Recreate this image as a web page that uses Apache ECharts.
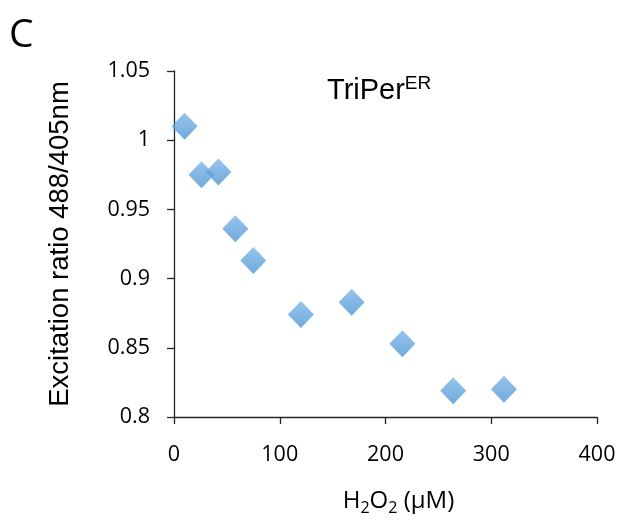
<!DOCTYPE html>
<html>
<head>
<meta charset="utf-8">
<script src="https://cdn.jsdelivr.net/npm/echarts@6/dist/echarts.min.js"></script>
<style>
html,body{margin:0;padding:0;background:#fff;}
#chart{width:634px;height:521px;}
</style>
</head>
<body>
<div id="chart"></div>
<script>
// Data
var h2o2 = [10, 26, 42, 58, 75, 120, 168, 216, 264, 312];
var ratio = [1.010, 0.975, 0.977, 0.936, 0.913, 0.874, 0.883, 0.853, 0.819, 0.820];
var xTicks = [0, 100, 200, 300, 400];
var yTicks = [0.8, 0.85, 0.9, 0.95, 1, 1.05];

var points = h2o2.map(function (x, i) { return [x, ratio[i]]; });

var tickFont = '"Open Sans", "Liberation Sans", sans-serif';
var arial = '"Liberation Sans", Arial, sans-serif';
var chart = echarts.init(document.getElementById('chart'), null, {renderer: 'canvas'});
chart.setOption({
  backgroundColor: '#ffffff',
  animation: false,
  grid: {left: 174, right: 37, top: 71, bottom: 102, containLabel: false},
  xAxis: {
    type: 'value',
    min: xTicks[0], max: xTicks[xTicks.length - 1], interval: 100,
    splitLine: {show: false},
    axisLine: {show: true, onZero: false, lineStyle: {color: '#262626', width: 1.3}},
    axisTick: {show: true, inside: false, length: 7, lineStyle: {color: '#262626', width: 1.3}},
    axisLabel: {color: '#000', fontSize: 21.5, fontFamily: tickFont, margin: 27},
    name: '{n|H}{s|2}{n|O}{s|2}{n| (\u03bcM)}',
    nameLocation: 'middle',
    nameGap: 70,
    nameTextStyle: {
      padding: [0, 0, 0, 26],
      rich: {
        n: {fontSize: 24, fontFamily: tickFont, color: '#000'},
        s: {fontSize: 16, fontFamily: tickFont, color: '#000', padding: [13, 0, 0, 0]}
      }
    }
  },
  yAxis: {
    type: 'value',
    min: 0.8, max: 1.05, interval: 0.05,
    splitLine: {show: false},
    axisLine: {show: true, onZero: false, lineStyle: {color: '#262626', width: 1.3}},
    axisTick: {show: true, inside: false, length: 7, lineStyle: {color: '#262626', width: 1.3}},
    axisLabel: {
      color: '#000', fontSize: 21.5, fontFamily: tickFont, margin: 24,
      formatter: function (v) { return String(Math.round(v * 100) / 100); }
    },
    name: 'Excitation ratio 488/405nm',
    nameLocation: 'middle',
    nameRotate: 90,
    nameGap: 100,
    nameTextStyle: {fontSize: 27.5, fontFamily: arial, color: '#000'}
  },
  graphic: [
    {type: 'text', left: 9, top: 16, style: {text: 'C', fontSize: 39, fontFamily: tickFont, fill: '#000'}},
    {type: 'text', left: 327, top: 74, style: {
      text: '{b|TriPer}{sup|ER}',
      rich: {
        b: {fontSize: 29, fontFamily: arial, fill: '#000', color: '#000'},
        sup: {fontSize: 19, fontFamily: arial, fill: '#000', color: '#000', padding: [0, 0, 14, 0]}
      }
    }}
  ],
  series: [{
    type: 'scatter',
    data: points,
    symbol: 'diamond',
    symbolSize: [26, 27],
    itemStyle: {
      color: new echarts.graphic.LinearGradient(0, 0, 0, 1, [
        {offset: 0, color: '#7ab6e8'},
        {offset: 1, color: '#4e94d2'}
      ])
    }
  }]
});
</script>
</body>
</html>
